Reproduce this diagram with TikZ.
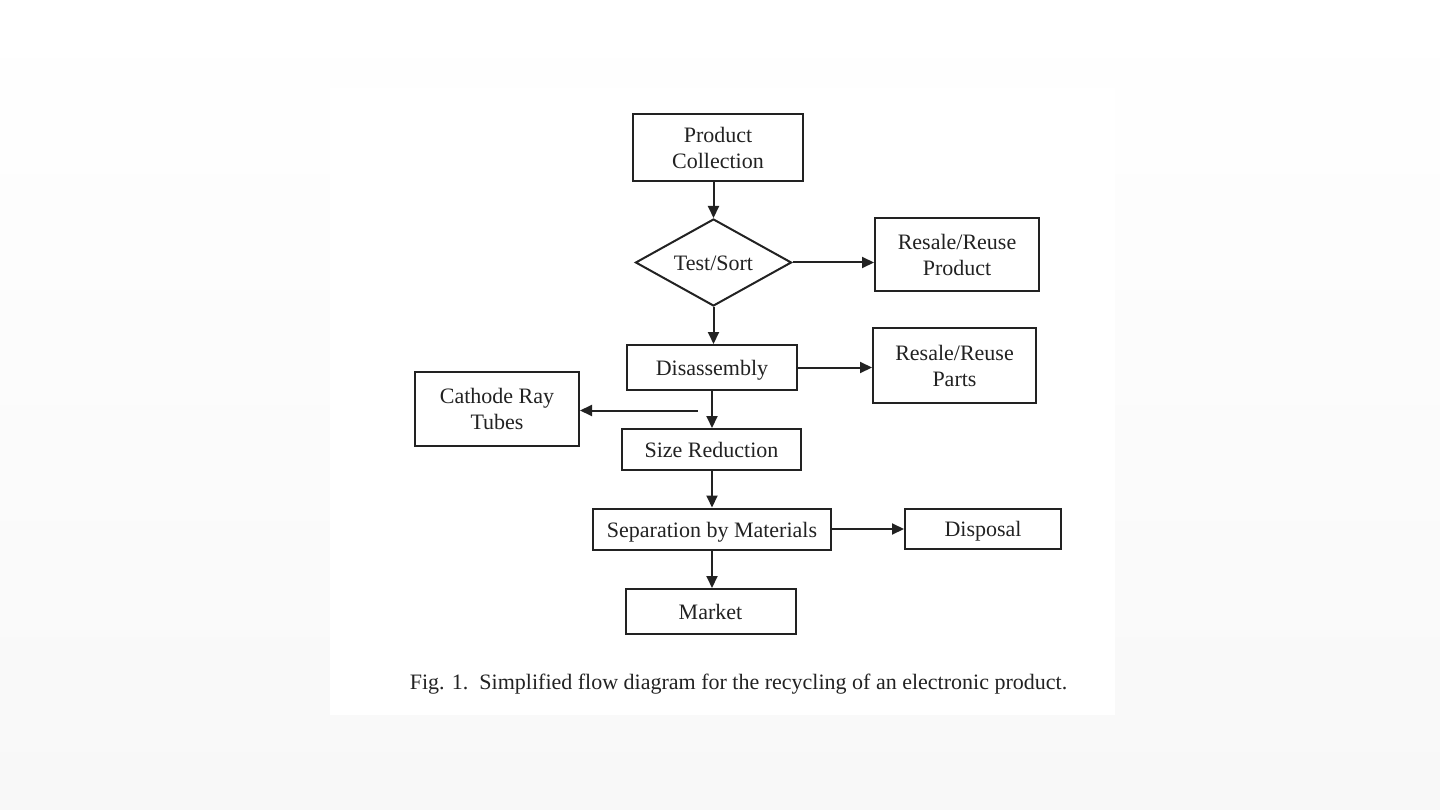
\documentclass[tikz,border=0pt]{standalone}
\usepackage{fontspec}
\setmainfont{Liberation Serif}
\usetikzlibrary{arrows.meta,shapes.geometric}
\definecolor{bgtop}{HTML}{FFFFFF}
\definecolor{bgbot}{HTML}{F8F8F8}
\definecolor{ink}{HTML}{222222}
\begin{document}
\begin{tikzpicture}[x=1pt,y=-1pt,
  box/.style={draw=ink,line width=2pt,fill=white,inner sep=0pt,align=center,
    font=\fontsize{22}{26}\selectfont,text=ink},
  oneline/.style={text height=20.5pt,text depth=4pt},
  dia/.style={draw=ink,line width=2pt,fill=white,diamond,inner sep=0pt,
    font=\fontsize{22}{26}\selectfont,text=ink},
  flow/.style={draw=ink,line width=2pt,-{Triangle[length=12pt,width=11pt]}}]
\shade[top color=bgtop,bottom color=bgbot] (0,0) rectangle (1440,810);
\useasboundingbox (0,0) rectangle (1440,810);
\fill[white] (330,88) rectangle (1115,715);
% nodes
\node[box,minimum width=170pt,minimum height=67pt] (pc) at (718,147.5) {Product\\Collection};
\node[dia,minimum width=156pt,minimum height=87pt] (ts) at (713.5,262.5) {};
\node[font=\fontsize{22}{26}\selectfont,text=ink,oneline,inner sep=0pt] (tst) at (713.5,262.5) {Test/Sort};
\node[box,minimum width=164pt,minimum height=73pt] (rp) at (957,254.5) {Resale/Reuse\\Product};
\node[box,oneline,minimum width=170pt,minimum height=45pt] (dis) at (712,367.5) {Disassembly};
\node[box,minimum width=163pt,minimum height=75pt] (rparts) at (954.5,365.5) {Resale/Reuse\\Parts};
\node[box,minimum width=164pt,minimum height=74pt] (crt) at (497,409) {Cathode Ray\\Tubes};
\node[box,oneline,minimum width=179pt,minimum height=41pt] (sr) at (711.5,449.5) {Size Reduction};
\node[box,oneline,minimum width=238pt,minimum height=41pt] (sep) at (712,529) {Separation by Materials};
\node[box,oneline,minimum width=156pt,minimum height=40pt] (disp) at (983,528.5) {Disposal};
\node[box,oneline,minimum width=170pt,minimum height=45pt] (mkt) at (710.5,611.5) {Market};
\node[font=\fontsize{22}{24}\selectfont,text=ink,anchor=base] (cap) at (738.5,689)
  {Fig. 1.\ \ Simplified flow diagram for the recycling of an electronic product.};
% connectors
\draw[flow] (ts.north |- pc.south) -- (ts.north);
\draw[flow] (ts.east) -- (ts.east -| rp.west);
\draw[flow] (ts.south) -- (ts.south |- dis.north);
\draw[flow] (dis.east) -- (dis.east -| rparts.west);
\draw[flow] (dis.south) -- (dis.south |- sr.north);
\coordinate (crtstart) at (697.5,410.5);
\draw[flow] (crtstart) -- (crtstart -| crt.east);
\draw[flow] (dis.south |- sr.south) -- (dis.south |- sep.north);
\draw[flow] (sep.east) -- (sep.east -| disp.west);
\draw[flow] (sep.south) -- (sep.south |- mkt.north);
\end{tikzpicture}
\end{document}
